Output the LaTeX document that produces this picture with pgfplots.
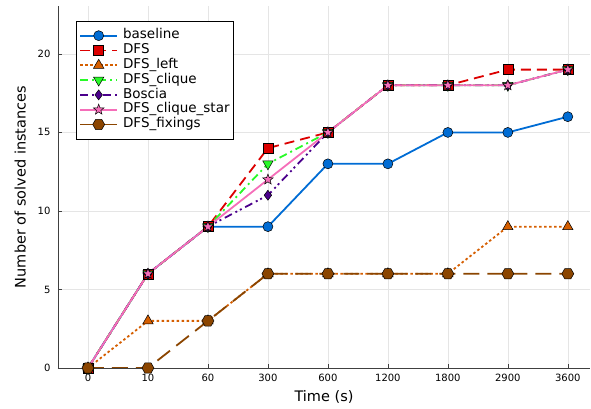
\documentclass[border=0pt]{standalone}
\usepackage{pgfplots}
\pgfplotsset{compat=1.18}
\usepackage{fontspec}
\setmainfont{DejaVu Sans}
\definecolor{cblue}{RGB}{0,108,212}
\definecolor{cred}{RGB}{220,0,0}
\definecolor{corange}{RGB}{213,94,0}
\definecolor{cgreen}{RGB}{40,250,40}
\definecolor{cpurple}{RGB}{75,0,140}
\definecolor{cpink}{RGB}{245,110,185}
\definecolor{cbrown}{RGB}{139,69,0}
\pgfdeclareplotmark{hexagon*}{%
  \pgfpathmoveto{\pgfqpointpolar{0}{\pgfplotmarksize}}%
  \pgfpathlineto{\pgfqpointpolar{60}{\pgfplotmarksize}}%
  \pgfpathlineto{\pgfqpointpolar{120}{\pgfplotmarksize}}%
  \pgfpathlineto{\pgfqpointpolar{180}{\pgfplotmarksize}}%
  \pgfpathlineto{\pgfqpointpolar{240}{\pgfplotmarksize}}%
  \pgfpathlineto{\pgfqpointpolar{300}{\pgfplotmarksize}}%
  \pgfpathclose\pgfusepathqfillstroke}
\pgfdeclareplotmark{fstar}{%
  \pgfpathmoveto{\pgfqpointpolar{90}{\pgfplotmarksize}}%
  \pgfpathlineto{\pgfqpointpolar{126}{0.42\pgfplotmarksize}}%
  \pgfpathlineto{\pgfqpointpolar{162}{\pgfplotmarksize}}%
  \pgfpathlineto{\pgfqpointpolar{198}{0.42\pgfplotmarksize}}%
  \pgfpathlineto{\pgfqpointpolar{234}{\pgfplotmarksize}}%
  \pgfpathlineto{\pgfqpointpolar{270}{0.42\pgfplotmarksize}}%
  \pgfpathlineto{\pgfqpointpolar{306}{\pgfplotmarksize}}%
  \pgfpathlineto{\pgfqpointpolar{342}{0.42\pgfplotmarksize}}%
  \pgfpathlineto{\pgfqpointpolar{18}{\pgfplotmarksize}}%
  \pgfpathlineto{\pgfqpointpolar{54}{0.42\pgfplotmarksize}}%
  \pgfpathclose\pgfusepathqfillstroke}
\begin{document}
\begin{tikzpicture}
\path[use as bounding box] (0,0) rectangle (591pt,409pt);
\begin{axis}[
  at={(58pt,41pt)}, anchor=south west,
  scale only axis, width=532pt, height=362pt,
  xmin=-0.5, xmax=8.37, ymin=0, ymax=23.05,
  xtick={0,1,2,3,4,5,6,7,8},
  xticklabels={0,10,60,300,600,1200,1800,2900,3600},
  ytick={0,5,10,15,20},
  axis lines*=left,
  axis line style={draw=black!75, line width=0.8pt, -},
  tick style={draw=black!75, line width=0.6pt},
  tick align=inside, major tick length=4pt,
  grid=major, grid style={draw=black!10, line width=0.6pt},
  /pgf/number format/assume math mode=true,
  tick label style={font=\fontsize{10}{12}\selectfont},
  label style={font=\fontsize{14.5}{16}\selectfont},
  xlabel={Time (s)}, ylabel={Number of solved instances},
  xlabel style={yshift=-2pt},
  ylabel style={yshift=5pt},
  xticklabel style={yshift=-3pt},
  yticklabel style={xshift=-4pt},
  every axis plot/.append style={line width=1.8pt},
  legend cell align=left,
  legend style={at={(0.034,0.958)}, anchor=north west, draw=black,
    font=\fontsize{13.5}{15}\selectfont,
    nodes={inner sep=1pt, text height=9.5pt, text depth=3pt},
    /tikz/every odd column/.append style={column sep=4pt},
    row sep=0.3pt, inner xsep=3pt, inner ysep=7pt},
  every legend/.append style={/tikz/line width=0.6pt},
  legend image code/.code={%
    \draw[line width=1.8pt, mark=none] (0pt,0pt) -- (37pt,0pt);
    \draw[line width=1.8pt] plot coordinates {(18.5pt,0pt)};},
]
\addplot[cblue, solid, mark=*, mark size=5pt, mark options={solid, fill=cblue, draw=black, line width=0.5pt}]
  coordinates {(0,0) (1,6) (2,9) (3,9) (4,13) (5,13) (6,15) (7,15) (8,16)};
\addlegendentry{baseline}
\addplot[cred, dash pattern=on 10pt off 6pt, mark=square*, mark size=5pt, mark options={solid, fill=cred, draw=black, line width=0.5pt}]
  coordinates {(0,0) (1,6) (2,9) (3,14) (4,15) (5,18) (6,18) (7,19) (8,19)};
\addlegendentry{DFS}
\addplot[corange, dash pattern=on 2.5pt off 2.5pt, mark=triangle*, mark size=6pt, mark options={solid, fill=corange, draw=black, line width=0.5pt}]
  coordinates {(0,0) (1,3) (2,3) (3,6) (4,6) (5,6) (6,6) (7,9) (8,9)};
\addlegendentry{DFS\_left}
\addplot[cgreen, dash pattern=on 8pt off 4pt on 2pt off 4pt, mark=triangle*, mark size=6pt, mark options={solid, rotate=180, fill=cgreen, draw=black, line width=0.5pt}]
  coordinates {(0,0) (1,6) (2,9) (3,13) (4,15) (5,18) (6,18) (7,18) (8,19)};
\addlegendentry{DFS\_clique}
\addplot[cpurple, dash pattern=on 8pt off 4pt on 2pt off 3pt on 2pt off 4pt, mark=diamond*, mark size=5pt, mark options={solid, fill=cpurple, draw=black, line width=0.5pt}]
  coordinates {(0,0) (1,6) (2,9) (3,11) (4,15) (5,18) (6,18) (7,18) (8,19)};
\addlegendentry{Boscia}
\addplot[cpink, solid, mark=fstar, mark size=5.5pt, mark options={solid, fill=cpink, draw=black, line width=0.5pt}]
  coordinates {(0,0) (1,6) (2,9) (3,12) (4,15) (5,18) (6,18) (7,18) (8,19)};
\addlegendentry{DFS\_clique\_star}
\addplot[cbrown, dash pattern=on 16pt off 8pt, mark=hexagon*, mark size=6pt, mark options={solid, fill=cbrown, draw=black, line width=0.5pt}]
  coordinates {(0,0) (1,0) (2,3) (3,6) (4,6) (5,6) (6,6) (7,6) (8,6)};
\addlegendentry{DFS\_fixings}
\end{axis}
\end{tikzpicture}
\end{document}
